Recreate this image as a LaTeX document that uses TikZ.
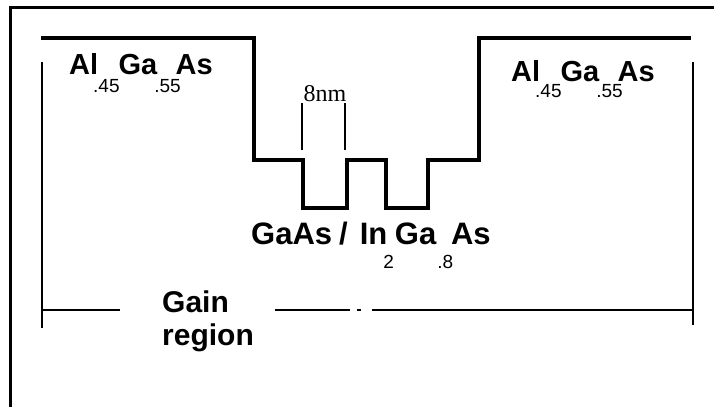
\documentclass[tikz,border=0pt]{standalone}
\usepackage{fontspec}
\setmainfont{Liberation Sans}
\newfontfamily\seriff{Liberation Serif}
\newcommand\subf{\mdseries\fontsize{19}{19}\selectfont}
\newcommand\sbs[4]{\kern#1\raisebox{#2}{\subf #3}\kern#4}
\tikzset{
  band/.style={line width=4pt, line join=miter},
  frame/.style={line width=3pt},
  gain/.style={line width=2pt},
  tick/.style={line width=1.5pt},
  lbl/.style={inner sep=0pt, font=\bfseries\fontsize{29}{29}\selectfont},
}
\begin{document}
\begin{tikzpicture}[x=1pt,y=-1pt]
\useasboundingbox (0,0) rectangle (714,407);
% outer frame
\draw[frame] (10,407) -- (10,7) -- (714,7);
% band profile
\draw[band] (41,38) -- (254,38) -- (254,160) -- (303,160) -- (303,208) -- (347,208)
  -- (347,160) -- (386,160) -- (386,208) -- (428,208) -- (428,160) -- (479,160)
  -- (479,38) -- (691,38);
% 8nm markers
\draw[tick] (302,103) -- (302,150);
\draw[tick] (345,103) -- (345,150);
\node[inner sep=0pt, anchor=base, font=\seriff\fontsize{24}{24}\selectfont] (w) at (325,101) {8nm};
% gain region
\draw[gain] (42,62) -- (42,328);
\draw[gain] (693,62) -- (693,325);
\draw[gain] (42,310) -- (120,310);
\draw[gain] (275,310) -- (350,310);
\draw[gain] (357,310) -- (361,310);
\draw[gain] (372,310) -- (694,310);
% labels
\node[lbl, anchor=base west] (l1) at (69,74)
  {Al\sbs{-5pt}{-18pt}{.45}{-1pt}Ga\sbs{-3pt}{-18pt}{.55}{-5pt}As};
\node[lbl, anchor=base west] (l2) at (511,81)
  {Al\sbs{-5pt}{-16pt}{.45}{-1pt}Ga\sbs{-3pt}{-16pt}{.55}{-5pt}As};
\node[inner sep=0pt, anchor=base west, font=\bfseries\fontsize{31}{31}\selectfont] (l3) at (251,244)
  {GaAs\kern7pt/\kern12pt In\sbs{-4pt}{-24pt}{2}{1pt}Ga\sbs{1pt}{-24pt}{.8}{-2pt}As};
\node[inner sep=0pt, anchor=base west, align=left, font=\bfseries\fontsize{30}{33}\selectfont] (l4) at (162,345)
  {Gain\\region};
\end{tikzpicture}
\end{document}
